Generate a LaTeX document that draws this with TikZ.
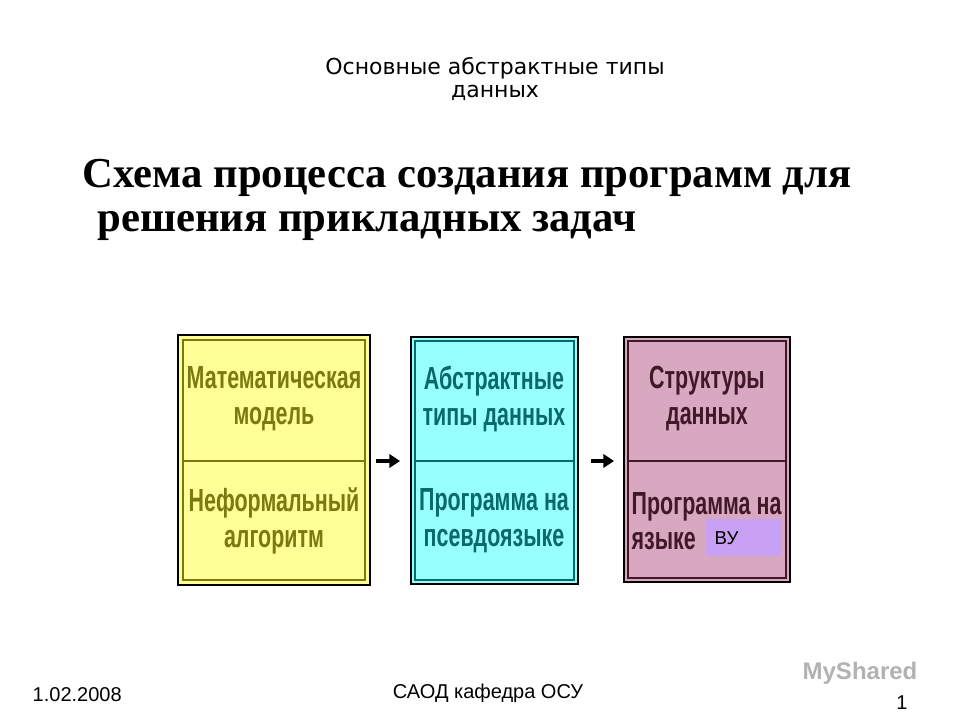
\documentclass[tikz,border=0pt]{standalone}
\usepackage{fontspec}
\usetikzlibrary{arrows.meta}
\setmainfont{Liberation Serif}
\newfontfamily\boxfont[FakeStretch=0.67]{Liberation Sans Bold}
\newfontfamily\sans{Liberation Sans}
\newfontfamily\titlefont{DejaVu Sans}
\definecolor{yfill}{HTML}{FFFF98}
\definecolor{ydraw}{HTML}{7A7A10}
\definecolor{cfill}{HTML}{98FFFF}
\definecolor{cdraw}{HTML}{0A6A6A}
\definecolor{pfill}{HTML}{D8A8C0}
\definecolor{pdraw}{HTML}{401828}
\definecolor{vu}{HTML}{C8A0F4}
\begin{document}
\begin{tikzpicture}[x=0.75pt,y=-0.75pt,
  outer/.style={draw=black,line width=0.8pt},
  inner/.style={line width=2.2pt},
  btext/.style={font=\boxfont\fontsize{24}{27}\selectfont,align=center},
  arr/.style={-{Triangle[length=8pt,width=10pt]},line width=2.4pt},
  foot/.style={font=\sans\fontsize{15}{17}\selectfont}]
\useasboundingbox (0,0) rectangle (960,720);
\fill[white] (0,0) rectangle (960,720);
% titles
\node[font=\titlefont\fontsize{16.5}{17}\selectfont,align=center] (t1) at (495,79) {Основные абстрактные типы\\данных};
\node[font=\bfseries\fontsize{32}{35}\selectfont,anchor=west] (h1) at (78,178) {Схема процесса создания программ для};
\node[font=\bfseries\fontsize{32}{35}\selectfont,anchor=west] (h2) at (93,226) {решения прикладных задач};
% yellow
\draw[outer,fill=yfill] (178,335) rectangle (370,585);
\draw[inner,draw=ydraw] (183,340) rectangle (365,580);
\draw[inner,draw=ydraw] (183,461) -- (365,461);
\node[btext,text=ydraw] (y1) at (274,399) {Математическая\\модель};
\node[btext,text=ydraw] (y2) at (274,521) {Неформальный\\алгоритм};
% cyan
\draw[outer,fill=cfill] (411,337) rectangle (578,584);
\draw[inner,draw=cdraw] (415,341) rectangle (574,580);
\draw[inner,draw=cdraw] (415,461) -- (574,461);
\node[btext,text=cdraw] (c1) at (494,399) {Абстрактные\\типы данных};
\node[btext,text=cdraw] (c2) at (494,521) {Программа на\\псевдоязыке};
% pink
\draw[outer,fill=pfill] (624,337) rectangle (790,582);
\draw[inner,draw=pdraw] (628,341) rectangle (786,578);
\draw[inner,draw=pdraw] (628,461) -- (786,461);
\node[btext,text=pdraw] (p1) at (707,399) {Структуры\\данных};
\node[btext,text=pdraw,anchor=west] (p2a) at (627,507) {Программа на};
\node[btext,text=pdraw,anchor=west] (p2b) at (627,541) {языке};
\fill[vu] (706,519) rectangle (781,556);
\node[anchor=west,font=\sans\fontsize{14}{16}\selectfont] (vut) at (710,538) {ВУ};
% arrows
\coordinate (a1s) at (376,461); \coordinate (a1e) at (400,461);
\coordinate (a2s) at (591,461); \coordinate (a2e) at (614,461);
\draw[arr] (a1s) -- (a1e);
\draw[arr] (a2s) -- (a2e);
% footer
\node[foot,anchor=west] (d) at (28,695) {1.02.2008};
\node[foot] (f) at (488,693) {САОД кафедра ОСУ};
\node[foot] (n) at (902,703) {1};
\node[font=\sans\bfseries\fontsize{18}{20}\selectfont,text=gray!60] (ms) at (860,673) {MyShared};
\end{tikzpicture}
\end{document}
